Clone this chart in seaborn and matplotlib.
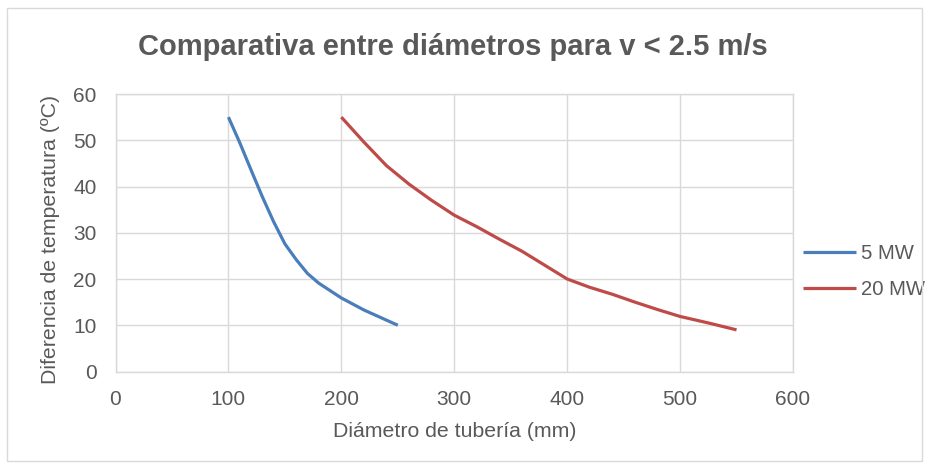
import matplotlib
matplotlib.use("Agg")
import matplotlib.pyplot as plt
import seaborn as sns
import pandas as pd
from matplotlib.patches import Rectangle

# Data
x_5mw = [100, 110, 120, 130, 140, 150, 160, 170, 180, 200, 220, 250]
y_5mw = [55, 49.5, 43.6, 37.8, 32.4, 27.6, 24.2, 21.2, 19.1, 15.9, 13.3, 10]
x_20mw = [200, 220, 240, 260, 280, 300, 320, 340, 360, 380, 400,
          420, 440, 460, 480, 500, 525, 550]
y_20mw = [55, 49.6, 44.5, 40.5, 37.0, 33.8, 31.3, 28.6, 26.0, 23.0, 20.0,
          18.2, 16.7, 15.0, 13.4, 11.9, 10.5, 9]
series_names = ["5 MW", "20 MW"]
x_ticks = [0, 100, 200, 300, 400, 500, 600]
y_ticks = [0, 10, 20, 30, 40, 50, 60]

title = "Comparativa entre diámetros para v < 2.5 m/s"
xlabel = "Diámetro de tubería (mm)"
ylabel = "Diferencia de temperatura (ºC)"

df = pd.concat([
    pd.DataFrame({"x": x_5mw, "y": y_5mw, "serie": series_names[0]}),
    pd.DataFrame({"x": x_20mw, "y": y_20mw, "serie": series_names[1]}),
], ignore_index=True)

sns.set_theme(style="white")
plt.rcParams["font.family"] = ["Liberation Sans", "DejaVu Sans"]

W, H = 931, 469
gray = "#595959"
grid = "#d9d9d9"

fig = plt.figure(figsize=(W / 100, H / 100), dpi=100)
fig.patch.set_facecolor("white")
# outer chart border
fig.add_artist(Rectangle((7 / W, 1 - 461 / H), 915 / W, 453 / H,
                         transform=fig.transFigure, fill=False,
                         edgecolor=grid, linewidth=1))

ax = fig.add_axes([115.5 / W, 1 - 371.5 / H, (793 - 115.5) / W, (371.5 - 94) / H])

palette = {"5 MW": "#4a7ebb", "20 MW": "#be4b48"}
sns.lineplot(data=df, x="x", y="y", hue="serie", palette=palette, ax=ax,
             linewidth=2.3, sort=False, estimator=None, legend=True)
for ln in ax.get_lines():
    ln.set_solid_capstyle("butt")
    ln.set_solid_joinstyle("round")

ax.set_xlim(0, 600)
ax.set_ylim(0, 60)
ax.set_xticks(x_ticks)
ax.set_yticks(y_ticks)
ax.grid(True, color=grid, linewidth=1)
ax.set_axisbelow(True)
for s in ax.spines.values():
    s.set_color(grid)
    s.set_linewidth(1)
ax.tick_params(axis="both", length=0, labelsize=15, labelcolor=gray, pad=13.5)

ax.set_xlabel("")
ax.set_ylabel("")
fig.text(455 / W, 1 - 437 / H, xlabel, ha="center", va="baseline",
         fontsize=15.3, color=gray)
fig.text(51 / W, 1 - 239 / H, ylabel, ha="center", va="center",
         rotation=90, fontsize=15.3, color=gray)

fig.text(452.6 / W, 1 - 55 / H, title, ha="center", va="baseline",
         fontsize=21, fontweight="bold", color=gray)

handles, labels = ax.get_legend_handles_labels()
leg = ax.legend(handles, labels, loc="center left",
                bbox_to_anchor=(802.7 / W, 1 - 271.4 / H),
                bbox_transform=fig.transFigure,
                frameon=False, fontsize=14.6, handlelength=2.63, handletextpad=0.24,
                labelspacing=0.82, borderaxespad=0, borderpad=0)
for t in leg.get_texts():
    t.set_color(gray)
for h in leg.get_lines():
    h.set_linewidth(2.3)

fig.savefig("out.png", dpi=100, facecolor="white")
